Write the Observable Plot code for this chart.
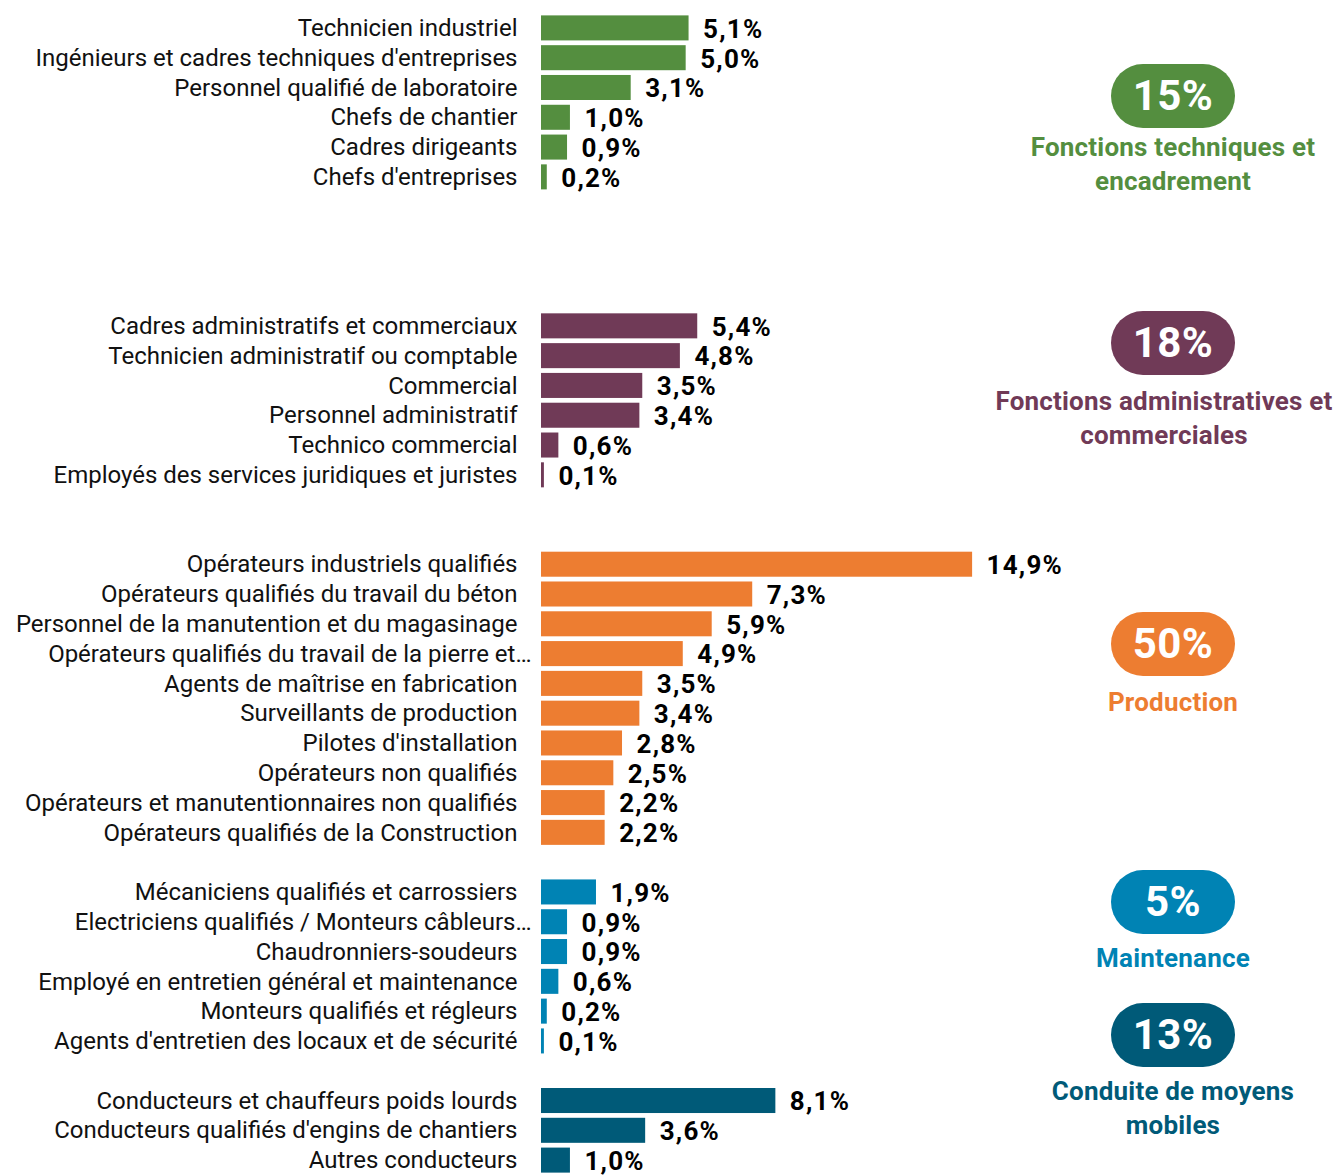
<!DOCTYPE html>
<html>
<head>
<meta charset="utf-8">
<script src="https://cdn.jsdelivr.net/npm/d3@7"></script>
<script src="https://cdn.jsdelivr.net/npm/@observablehq/plot@0.6"></script>
<style>
  html, body { margin: 0; padding: 0; background: #fff; }
  #wrap { position: relative; width: 1340px; height: 1175px; overflow: hidden; font-family: Roboto, sans-serif; }
  #wrap svg { display: block; overflow: visible; }
  .badge { position: absolute; width: 360px; margin-left: -180px; text-align: center; }
  .pill { display: inline-block; width: 124px; height: 64px; border-radius: 32px; color: #fff;
          font: 700 42px Roboto, sans-serif; line-height: 64px; letter-spacing: 0.5px; }
  .cap { font: 700 26px Roboto, sans-serif; line-height: 33.5px; letter-spacing: 0.2px; white-space: nowrap; }
</style>
</head>
<body>
<div id="wrap"></div>
<script>
// ---- Data ----
const groupNames = [
  ["Fonctions techniques et", "encadrement"],
  ["Fonctions administratives et", "commerciales"],
  ["Production"],
  ["Maintenance"],
  ["Conduite de moyens", "mobiles"]
];
const groupTotals = ["15%", "18%", "50%", "5%", "13%"];
const groupColors = ["#548e3f", "#703a57", "#ed7d31", "#0083b4", "#005a78"];

const techLabels = ["Technicien industriel", "Ingénieurs et cadres techniques d'entreprises", "Personnel qualifié de laboratoire", "Chefs de chantier", "Cadres dirigeants", "Chefs d'entreprises"];
const techValues = [5.1, 5.0, 3.1, 1.0, 0.9, 0.2];

const adminLabels = ["Cadres administratifs et commerciaux", "Technicien administratif ou comptable", "Commercial", "Personnel administratif", "Technico commercial", "Employés des services juridiques et juristes"];
const adminValues = [5.4, 4.8, 3.5, 3.4, 0.6, 0.1];

const prodLabels = ["Opérateurs industriels qualifiés", "Opérateurs qualifiés du travail du béton", "Personnel de la manutention et du magasinage", "Opérateurs qualifiés du travail de la pierre et…", "Agents de maîtrise en fabrication", "Surveillants de production", "Pilotes d'installation", "Opérateurs non qualifiés", "Opérateurs et manutentionnaires non qualifiés", "Opérateurs qualifiés de la Construction"];
const prodValues = [14.9, 7.3, 5.9, 4.9, 3.5, 3.4, 2.8, 2.5, 2.2, 2.2];

const maintLabels = ["Mécaniciens qualifiés et carrossiers", "Electriciens qualifiés / Monteurs câbleurs…", "Chaudronniers-soudeurs", "Employé en entretien général et maintenance", "Monteurs qualifiés et régleurs", "Agents d'entretien des locaux et de sécurité"];
const maintValues = [1.9, 0.9, 0.9, 0.6, 0.2, 0.1];

const driveLabels = ["Conducteurs et chauffeurs poids lourds", "Conducteurs qualifiés d'engins de chantiers", "Autres conducteurs"];
const driveValues = [8.1, 3.6, 1.0];

const groupLabels = [techLabels, adminLabels, prodLabels, maintLabels, driveLabels];
const groupValues = [techValues, adminValues, prodValues, maintValues, driveValues];

// ---- Layout (not data) ----
const gapRows = [4, 2, 1, 1, 0];
const badgeTops = [64, 311, 612, 870, 1003];
const capGaps = [3, 10, 10, 8, 8];
const capShift = [0, -9, 0, 0, 0];
const badgeCenterX = 1173;

// Build rows
const rows = [];
const domain = [];
let spacer = 0;
groupLabels.forEach((labels, g) => {
  labels.forEach((l, i) => {
    rows.push({label: l, value: groupValues[g][i], color: groupColors[g]});
    domain.push(l);
  });
  for (let k = 0; k < gapRows[g]; k++) domain.push("\u200b".repeat(++spacer));
});
const truncated = domain.filter(d => d.endsWith("…"));
const normal = domain.filter(d => !d.endsWith("…") && d.replace(/\u200b/g, "") !== "");
const fmt = v => d3.format(".1f")(v).replace(".", ",") + "%";

const plot = Plot.plot({
  width: 1340,
  height: 1175,
  marginTop: 13,
  marginBottom: 0,
  marginLeft: 541,
  marginRight: 365,
  style: {fontFamily: "Roboto, sans-serif", color: "#111", background: "transparent"},
  x: {domain: [0, 15], axis: null},
  y: {domain, paddingInner: 0.16, paddingOuter: 0.08, axis: null},
  marks: [
    Plot.barX(rows, {y: "label", x: "value", fill: "color"}),
    Plot.axisY({ticks: normal, tickSize: 0, tickPadding: 24, fontSize: 24, fill: "#111", label: null}),
    Plot.axisY({ticks: truncated, tickSize: 0, tickPadding: 10, fontSize: 24, fill: "#111", label: null}),
    Plot.text(rows, {y: "label", x: "value", text: d => fmt(d.value), textAnchor: "start", dx: 14, dy: 1,
      fontSize: 26, fontWeight: "bold", fill: "#000"})
  ]
});
plot.querySelectorAll("[aria-label='text'] text").forEach(t => t.style.letterSpacing = "1.2px");
document.getElementById("wrap").appendChild(plot);

// Group badges (legend-like annotations)
const wrap = document.getElementById("wrap");
groupNames.forEach((lines, g) => {
  const div = document.createElement("div");
  div.className = "badge";
  div.style.left = badgeCenterX + "px";
  div.style.top = badgeTops[g] + "px";
  const pill = document.createElement("div");
  pill.className = "pill";
  pill.style.background = groupColors[g];
  pill.textContent = groupTotals[g];
  div.appendChild(pill);
  const cap = document.createElement("div");
  cap.className = "cap";
  cap.style.color = groupColors[g];
  cap.style.marginTop = capGaps[g] + "px";
  cap.style.transform = `translateX(${capShift[g]}px)`;
  cap.innerHTML = lines.join("<br>");
  div.appendChild(cap);
  wrap.appendChild(div);
});
</script>
</body>
</html>
